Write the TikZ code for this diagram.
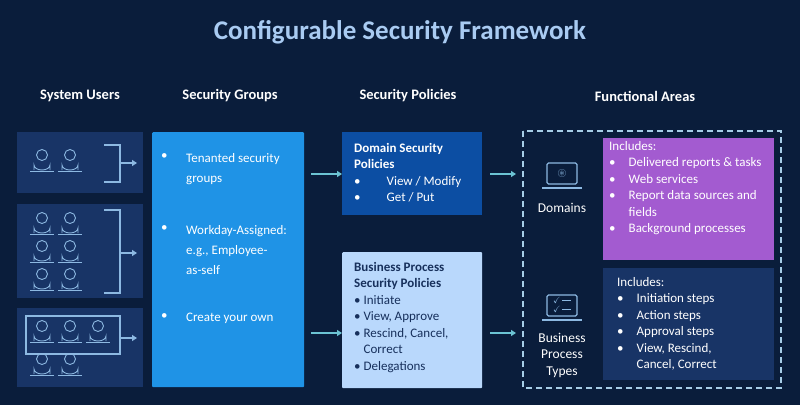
\documentclass[tikz,border=0pt]{standalone}
\usepackage{amssymb}
\usepackage{fontspec}
\setmainfont{Carlito}
\usetikzlibrary{positioning,arrows.meta}
\definecolor{bgnavy}{HTML}{0A1D3B}
\definecolor{usernavy}{HTML}{183466}
\definecolor{grpblue}{HTML}{1F93E6}
\definecolor{dompol}{HTML}{0C4EA3}
\definecolor{bplight}{HTML}{B9D8FC}
\definecolor{bptext}{HTML}{17305C}
\definecolor{purple}{HTML}{A35BD0}
\definecolor{teal}{HTML}{6CC3D3}
\definecolor{iconblue}{HTML}{8DB9E2}
\definecolor{titleblue}{HTML}{A9CBF2}
\definecolor{dashblue}{HTML}{A6CDE6}
\tikzset{
    header/.style={text=white,font=\bfseries\fontsize{14.5}{16}\selectfont},
    panel/.style={rectangle,anchor=north west,inner sep=0pt},
    txt/.style={align=left,anchor=north west,font=\fontsize{13}{16.5}\selectfont,inner sep=0pt},
    flow/.style={-{Triangle[length=5pt,width=6pt]},line width=2pt,draw=teal},
    person/.pic={
        \draw[iconblue,line width=0.9pt] (0,-7) circle (5.5);
        \draw[iconblue,line width=0.9pt] (-8,8) -- (-8,3) arc[start angle=180,end angle=0,x radius=8,y radius=5] -- (8,8);
        \draw[iconblue,line width=0.9pt] (-12,9) -- (12,9);
    },
    laptop/.pic={
        \draw[iconblue,line width=1.3pt,rounded corners=1.5pt] (-15,-13) rectangle (15,8);
        \draw[iconblue,line width=1.3pt] (-20,12) -- (20,12);
    },
}
\begin{document}
\begin{tikzpicture}[x=1pt,y=-1pt]
\fill[bgnavy] (0,0) rectangle (800,405);
\useasboundingbox (0,0) rectangle (800,405);

\node[text=titleblue,font=\bfseries\fontsize{27}{30}\selectfont] (title) at (400,32) {Configurable Security Framework};

% column headers
\node[header] (hUsers) at (80,96) {System Users};
\node[header] (hGroups) at (230,96) {Security Groups};
\node[header] (hPolicies) at (408,96) {Security Policies};
\node[header] (hAreas) at (645,96) {Functional Areas};

% system users
\fill[usernavy] (17,132) rectangle (143,193);
\fill[usernavy] (17,204) rectangle (143,298);
\fill[usernavy] (17,308) rectangle (143,387);
\foreach \x in {42,70} {
    \pic at (\x,162) {person};
    \pic at (\x,225) {person};
    \pic at (\x,253) {person};
    \pic at (\x,281) {person};
    \pic at (\x,366) {person};
}
\foreach \x in {42,70,98} \pic at (\x,333) {person};
\draw[iconblue,line width=1.2pt] (104,145) -- (120,145) -- (120,182) -- (104,182);
\draw[iconblue,line width=1.2pt] (104,210) -- (120,210) -- (120,293) -- (104,293);
\draw[iconblue,line width=1.2pt] (26,316) rectangle (120,354);
\coordinate (u1) at (120,163);
\coordinate (u2) at (120,253);
\coordinate (u3) at (120,338);

% security groups
\node[panel,fill=grpblue,minimum width=152,minimum height=255,rounded corners=1pt] (groups) at (152,132) {};
\foreach \y/\t in {153/{Tenanted security\\groups},225/{Workday-Assigned:\\e.g., Employee-\\as-self},313/{Create your own}} {
    \node[txt,text=white,font=\fontsize{13}{20}\selectfont] at (186,\y) {\t};
    \node[txt,text=white] at (161,\y) {\textbullet};
}
\foreach \u in {u1,u2,u3} \draw[-{Triangle[length=5pt,width=6pt]},line width=1.6pt,draw=iconblue] (\u) -- ++(17,0);

% security policies
\node[panel,fill=dompol,minimum width=140,minimum height=83] (dom) at (342,132) {};
\node[txt,text=white] (domT) at (354,143) {\textbf{Domain Security}\\\textbf{Policies}\\\textbullet\qquad View / Modify\\\textbullet\qquad Get / Put};
\node[panel,fill=bplight,minimum width=140,minimum height=136,rounded corners=1pt] (bp) at (342,252) {};
\node[txt,text=bptext] (bpT) at (354,262) {\textbf{Business Process}\\\textbf{Security Policies}\\\textbullet{} Initiate\\\textbullet{} View, Approve\\\textbullet{} Rescind, Cancel,\\\phantom{\textbullet{} }Correct\\\textbullet{} Delegations};

\coordinate (g1) at (311,174);
\coordinate (g2) at (311,333);
\coordinate (p1) at (490,174);
\coordinate (p2) at (490,333);
\draw[flow] (g1) -- (dom.west |- g1);
\draw[flow] (g2) -- (bp.west |- g2);
\draw[flow] (p1) -- ++(26,0);
\draw[flow] (p2) -- ++(26,0);

% functional areas
\draw[dashblue,line width=1.3pt,dash pattern=on 6pt off 4pt] (523,131) rectangle (781,388);
\pic at (562,176) {laptop};
\node[white,font=\fontsize{13.5}{15}\selectfont] (domains) at (562,208) {Domains};
\pic at (562,308) {laptop};
\node[iconblue,font=\fontsize{9}{9}\selectfont] (chk) at (562,300) {$\checkmark$\,\rule[2pt]{9pt}{1.2pt}};
\node[iconblue,font=\fontsize{9}{9}\selectfont] (chk2) at (562,309) {$\checkmark$\,\rule[2pt]{9pt}{1.2pt}};
\node[white,align=center,font=\fontsize{13.5}{16.5}\selectfont] (bpt) at (562,355) {Business\\Process\\Types};
\node[iconblue,font=\fontsize{12}{12}\selectfont] (gear) at (562,173) {$\circledast$};

\node[panel,fill=purple,minimum width=171,minimum height=122] (incD) at (603,138) {};
\node[txt,text=white] (incDT) at (609,141) {Includes:\\\textbullet\quad Delivered reports \& tasks\\\textbullet\quad Web services\\\textbullet\quad Report data sources and\\\phantom{\textbullet\quad }fields\\\textbullet\quad Background processes};
\node[panel,fill=usernavy,minimum width=171,minimum height=112] (incB) at (603,268) {};
\node[txt,text=white] (incBT) at (617,277) {Includes:\\\textbullet\quad Initiation steps\\\textbullet\quad Action steps\\\textbullet\quad Approval steps\\\textbullet\quad View, Rescind,\\\phantom{\textbullet\quad }Cancel, Correct};
\end{tikzpicture}
\end{document}
